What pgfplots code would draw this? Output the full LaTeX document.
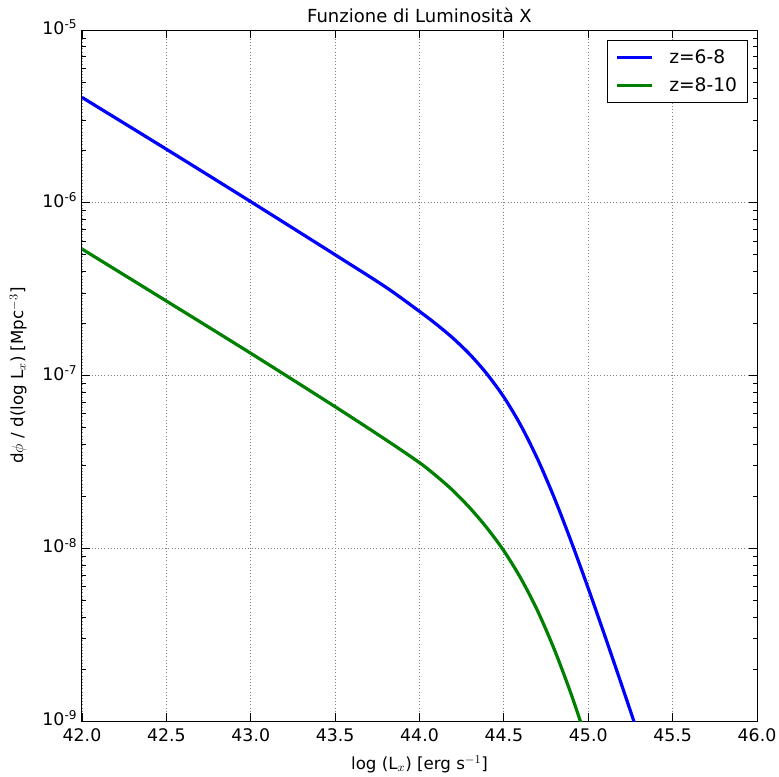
\documentclass[border=0pt]{standalone}
\usepackage{pgfplots}
\pgfplotsset{compat=1.18}
\usepackage{fontspec}
\setmainfont{DejaVu Sans}
\definecolor{mplgreen}{rgb}{0,0.5,0}
\begin{document}
\begin{tikzpicture}
\useasboundingbox (-61.5pt,-41.25pt) rectangle (522.75pt,540.75pt);
\begin{axis}[
  scale only axis, width=506.25pt, height=518.25pt,
  xmin=42, xmax=46, ymin=1e-9, ymax=1e-5, ymode=log,
  xtick={42,42.5,43,43.5,44,44.5,45,45.5,46},
  xticklabels={42.0,42.5,43.0,43.5,44.0,44.5,45.0,45.5,46.0},
  ytick={1e-9,1e-8,1e-7,1e-6,1e-5},
  yticklabels={10\textsuperscript{-9},10\textsuperscript{-8},10\textsuperscript{-7},10\textsuperscript{-6},10\textsuperscript{-5}},
  tick label style={font=\fontsize{13}{15}\selectfont},
  xticklabel style={yshift=-2pt},
  yticklabel style={yshift=2pt},
  tick align=inside, xtick pos=both, ytick pos=both,
  major tick length=6pt, minor tick length=3pt,
  every tick/.style={black, line width=0.6pt},
  grid=major, major grid style={gray, dotted, line width=0.6pt},
  axis line style={line width=0.75pt},
  title={Funzione di Luminosità X},
  title style={font=\fontsize{13.5}{16}\selectfont, yshift=-4pt},
  xlabel={log (L$_x$) [erg s$^{-1}$]},
  ylabel={d$\phi$ / d(log L$_x$) [Mpc$^{-3}$]},
  label style={font=\fontsize{12.5}{15}\selectfont},
  xlabel style={yshift=-4pt},
  ylabel style={yshift=5pt},
  legend style={at={(rel axis cs:0.987,0.986)}, anchor=north east, draw=black, line width=0.75pt,
    font=\fontsize{14}{17}\selectfont, row sep=5pt, inner xsep=6pt, inner ysep=5pt},
  legend cell align=left,
  legend image code/.code={\draw[#1, line width=2.25pt] (0pt,0pt) -- (26pt,0pt);},
]
\addplot[blue, line width=2.4pt, smooth] coordinates {
(42.0,4.074e-6) (42.5,2.042e-6) (43.0,1.015e-6) (43.5,5.0e-7) (43.8,3.25e-7)
(44.0,2.35e-7) (44.1,1.98e-7) (44.2,1.64e-7) (44.3,1.32e-7) (44.4,1.02e-7)
(44.5,7.5e-8) (44.6,5.15e-8) (44.7,3.28e-8) (44.8,1.945e-8) (44.9,1.087e-8)
(45.0,5.86e-9) (45.1,3.08e-9) (45.2,1.596e-9) (45.3,8.18e-10)
};
\addlegendentry{\hspace{10pt}z=6-8}
\addplot[mplgreen, line width=2.4pt, smooth] coordinates {
(42.0,5.40e-7) (42.5,2.70e-7) (43.0,1.345e-7) (43.5,6.6e-8) (43.8,4.25e-8)
(44.0,3.13e-8) (44.1,2.62e-8) (44.2,2.15e-8) (44.3,1.706e-8) (44.4,1.31e-8)
(44.5,9.66e-9) (44.6,6.71e-9) (44.7,4.34e-9) (44.8,2.58e-9) (44.9,1.419e-9)
(45.0,7.28e-10)
};
\addlegendentry{\hspace{10pt}z=8-10}
\end{axis}
\end{tikzpicture}
\end{document}
